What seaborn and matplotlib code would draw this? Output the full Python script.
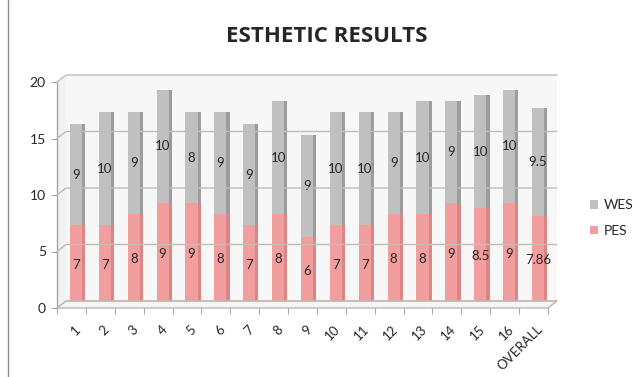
import numpy as np
import pandas as pd
import matplotlib
matplotlib.use("Agg")
import matplotlib.pyplot as plt
import seaborn as sns
from matplotlib.transforms import offset_copy, IdentityTransform
from matplotlib.patches import Polygon, Patch
from matplotlib.lines import Line2D

# ---- data -------------------------------------------------------------
categories = ["1", "2", "3", "4", "5", "6", "7", "8", "9", "10", "11",
              "12", "13", "14", "15", "16", "OVERALL"]
pes = [7, 7, 8, 9, 9, 8, 7, 8, 6, 7, 7, 8, 8, 9, 8.5, 9, 7.86]
wes = [9, 10, 9, 10, 8, 9, 9, 10, 9, 10, 10, 9, 10, 9, 10, 10, 9.5]
y_ticks = [0, 5, 10, 15, 20]

# ---- style ------------------------------------------------------------
sns.set_theme(style="white")
plt.rcParams["font.family"] = ["Lato", "DejaVu Sans"]

PES_FRONT, PES_SIDE = "#F39E9E", "#DA8686"
WES_FRONT, WES_SIDE = "#C0C0C0", "#9C9C9C"
GRID = "#C6BBB5"
AXIS = "#A6A6A6"
TEXT = "#262626"

W, H = 642, 377
fig = plt.figure(figsize=(W / 100, H / 100), dpi=100)
ax = fig.add_axes([57 / W, 69 / H, 491 / W, 226 / H])

df = pd.DataFrame({"cat": categories, "pes": pes,
                   "total": np.array(pes) + np.array(wes)})

FRONT_W = 0.42
sns.barplot(data=df, x="cat", y="total", color=WES_FRONT, width=FRONT_W,
            saturation=1, linewidth=0, ax=ax, zorder=3)
sns.barplot(data=df, x="cat", y="pes", color=PES_FRONT, width=FRONT_W,
            saturation=1, linewidth=0, ax=ax, zorder=4)
front_patches = list(ax.patches)

n = len(categories)
xs = np.arange(n)
ax.set_xlim(-0.5, n - 0.5)
ax.set_ylim(0, 20)

# bars stand half way into the depth of the 3-D box
bar_shift = offset_copy(ax.transData, fig=fig, x=4.5, y=3.5, units="dots")

for p in front_patches:
    p.set_transform(bar_shift)

side_x = xs + FRONT_W / 2 + 0.055
ax.bar(side_x, df["total"], width=0.11, color=WES_SIDE, linewidth=0,
       zorder=3, transform=bar_shift)
ax.bar(side_x, df["pes"], width=0.11, color=PES_SIDE, linewidth=0,
       zorder=4, transform=bar_shift)

# value labels centred in each segment
for i in range(n):
    ax.text(xs[i], pes[i] / 2, f"{pes[i]:g}", ha="center", va="center",
            fontsize=9.5, color=TEXT, zorder=6, transform=bar_shift)
    ax.text(xs[i], pes[i] + wes[i] / 2, f"{wes[i]:g}", ha="center",
            va="center", fontsize=9.5, color=TEXT, zorder=6,
            transform=bar_shift)

# ---- 3-D box: back wall, side wall, floor, gridlines -------------------
def px(x, y, dx=0.0, dy=0.0):
    a, b = ax.transData.transform((x, y))
    return (a + dx, b + dy)

DX, DY = 9, 7
x0, x1 = -0.5, n - 0.5
ident = IdentityTransform()

wall = Polygon([px(x0, 0, DX, DY), px(x1, 0, DX, DY),
                px(x1, 20, DX, DY), px(x0, 20, DX, DY)],
               closed=True, facecolor="#F7F7F7", edgecolor="none",
               transform=ident, zorder=0, clip_on=False)
side = Polygon([px(x0, 0), px(x0, 0, DX, DY), px(x0, 20, DX, DY),
                px(x0, 20)], closed=True, facecolor="#F2F2F2",
               edgecolor="none", transform=ident, zorder=0, clip_on=False)
floor = Polygon([px(x0, 0), px(x1, 0), px(x1, 0, DX, DY),
                 px(x0, 0, DX, DY)], closed=True, facecolor="#F4F4F4",
                edgecolor=AXIS, linewidth=0.8, transform=ident, zorder=1,
                clip_on=False)
for patch in (wall, side, floor):
    fig.add_artist(patch)

for v in y_ticks:
    a = px(x0, v)
    b = px(x0, v, DX, DY)
    c = px(x1, v, DX, DY)
    fig.add_artist(Line2D([a[0], b[0], c[0]], [a[1], b[1], c[1]],
                          color=GRID, linewidth=1.0, transform=ident,
                          zorder=1))

# ---- axes -------------------------------------------------------------
for s in ("top", "right", "bottom"):
    ax.spines[s].set_visible(False)
ax.spines["left"].set_color(AXIS)
ax.spines["left"].set_linewidth(1.0)
ax.patch.set_visible(False)

ax.set_yticks(y_ticks)
ax.tick_params(axis="y", which="major", left=True, length=4, width=0.8,
               color=AXIS, labelsize=10, labelcolor=TEXT, pad=4)

ax.set_xticks(xs)
ax.set_xticklabels(categories, rotation=45, ha="right", va="center",
                   rotation_mode="anchor")
ax.set_xticks(np.arange(n + 1) - 0.5, minor=True)
ax.tick_params(axis="x", which="major", bottom=True, length=0,
               labelsize=9.5, labelcolor=TEXT, pad=14)
ax.tick_params(axis="x", which="minor", bottom=True, length=4, width=0.8,
               color=AXIS)
lbl_shift = matplotlib.transforms.ScaledTranslation(7 / 100, 0,
                                                     fig.dpi_scale_trans)
for t in ax.get_xticklabels():
    t.set_transform(t.get_transform() + lbl_shift)

ax.set_xlabel("")
ax.set_ylabel("")

# ---- legend -----------------------------------------------------------
handles = [Patch(facecolor=WES_FRONT, edgecolor="none", label="WES"),
           Patch(facecolor=PES_FRONT, edgecolor="none", label="PES")]
fig.legend(handles=handles, loc="center left",
           bbox_to_anchor=(590 / W, 1 - 218 / H), frameon=False,
           fontsize=10, handlelength=0.6, handleheight=0.6,
           handletextpad=0.4, labelspacing=1.0, borderpad=0,
           borderaxespad=0, labelcolor=TEXT)

# ---- title and outer frame --------------------------------------------
fig.text(327 / W, 1 - 37 / H, "ESTHETIC RESULTS", ha="center",
         va="center", fontsize=16, fontweight="bold", color=TEXT,
         family=["Open Sans", "DejaVu Sans"])
fig.add_artist(Line2D([8 / W, 8 / W], [0, 1], color="#8C8C8C",
                      linewidth=1.0, transform=fig.transFigure))

fig.savefig("out.png", dpi=100)
